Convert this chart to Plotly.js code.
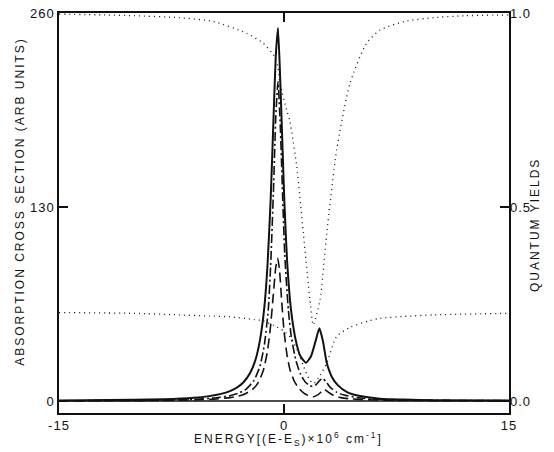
<!DOCTYPE html>
<html>
<head>
<meta charset="utf-8">
<script src="https://cdn.plot.ly/plotly-3.0.1.min.js"></script>
<style>
html,body{margin:0;padding:0;background:#fff;}
#chart{width:554px;height:452px;}
.annotation-text{letter-spacing:2px;}
.xtick text,.ytick text,.y2tick text{letter-spacing:1px;}
</style>
</head>
<body>
<div id="chart"></div>
<script>
// Absorption cross section (left axis, arb units)
var solidX = [-15,-10,-8,-6,-5,-4.2,-3.6,-3.16,-2.7,-2.27,-1.9,-1.6,-1.31,-1.1,-0.89,-0.7,-0.55,-0.4,-0.25,-0.1,0.02,0.2,0.47,0.8,1.1,1.47,1.8,2.1,2.36,2.6,2.84,3.2,3.6,4.2,5,6.4,8,10,15];
var solidY = [0.4,0.8,1.2,2.2,3.3,4.8,6.7,8.9,12.6,18.6,27.7,41,63,91,135,189,231,250,215,170,134.7,95,61,40,30,25.7,30,40,48.7,40,26,16,10.5,6,3.5,1.6,1,0.6,0.3];

var dashDotX = [-15,-10,-8,-6,-4.5,-3.6,-3,-2.5,-2,-1.6,-1.31,-1.05,-0.89,-0.7,-0.55,-0.4,-0.25,-0.1,0.05,0.29,0.5,0.8,1.1,1.4,1.7,1.9,2.15,2.4,2.58,2.8,3.1,3.5,4,5,6,8,10,15];
var dashDotY = [0.18,0.42,0.67,1.2,2.2,3.6,5.4,8.2,13.8,23.4,37.6,61,90.7,141.7,190,214,185,140,98,61,42,27,18,13,10.5,9.8,11,14,15.2,13,9,6,4,2.2,1.4,0.8,0.5,0.25];

var longDashX = [-15,-10,-8,-6,-4.5,-3.6,-3.1,-2.6,-2.1,-1.7,-1.38,-1.1,-0.9,-0.71,-0.55,-0.42,-0.3,-0.16,0,0.2,0.4,0.7,1.0,1.3,1.6,1.95,2.3,2.69,2.95,3.3,3.8,4.5,5.5,7,10,15];
var longDashY = [0.11,0.26,0.41,0.76,1.4,2.3,3.2,4.8,7.8,12.7,20.4,33.5,49.8,71.5,89.5,95.6,88,67.7,47,31,21,13,8.5,5.5,3.8,2.9,4.5,7.8,6,3.8,2.3,1.4,0.9,0.5,0.25,0.1];

// Quantum yields (right axis)
var upperX = [-15,-12,-10,-7,-4.7,-2.5,-1.38,-0.71,-0.4,-0.27,0.18,0.4,0.85,1.29,1.73,1.95,2.4,2.85,3.51,4.4,5.5,6.4,8,10,12,15];
var upperY = [0.997,0.995,0.993,0.988,0.978,0.948,0.922,0.892,0.86,0.819,0.75,0.72,0.604,0.432,0.26,0.196,0.26,0.432,0.647,0.819,0.922,0.956,0.978,0.988,0.993,0.995];

var lowerX = [-15,-10,-7,-5,-3.6,-2,-1.4,-0.7,0,0.5,0.9,1.3,1.7,2.0,2.3,2.85,3.5,4.4,5.7,6.4,8,10,15];
var lowerY = [0.228,0.226,0.222,0.219,0.217,0.21,0.207,0.195,0.18,0.16,0.13,0.09,0.055,0.045,0.06,0.097,0.166,0.19,0.207,0.213,0.218,0.222,0.226];

var xTicks = [-15,0,15];
var xTickText = ['-15','0','15'];
var yTicks = [0,130,260];
var yTickText = ['0','130','260'];
var y2Ticks = [0,0.5,1];
var y2TickText = ['0.0','0.5','1.0'];

var blk = '#111';
var traces = [
  {x: upperX, y: upperY, yaxis:'y2', mode:'lines', line:{color:blk, width:1.3, dash:'1px,4px', shape:'spline', smoothing:0.6}, hoverinfo:'skip'},
  {x: lowerX, y: lowerY, yaxis:'y2', mode:'lines', line:{color:blk, width:1.3, dash:'1px,4px', shape:'spline', smoothing:0.6}, hoverinfo:'skip'},
  {x: longDashX, y: longDashY, mode:'lines', line:{color:blk, width:1.6, dash:'10px,5px', shape:'spline', smoothing:0.5}, hoverinfo:'skip'},
  {x: dashDotX, y: dashDotY, mode:'lines', line:{color:blk, width:1.6, dash:'9px,3px,2px,3px', shape:'spline', smoothing:0.5}, hoverinfo:'skip'},
  {x: solidX, y: solidY, mode:'lines', line:{color:blk, width:2, shape:'spline', smoothing:0.5}, hoverinfo:'skip'}
];

var tickFont = {family:'Liberation Sans, Arial, sans-serif', size:13, color:blk};
var titleFont = {family:'Liberation Sans, Arial, sans-serif', size:12, color:blk};

var layout = {
  width:554, height:452,
  margin:{l:59, r:45, t:13, b:39, pad:0},
  paper_bgcolor:'#fff', plot_bgcolor:'#fff',
  showlegend:false,
  xaxis:{range:[-15,15], tickvals:xTicks, ticktext:xTickText, ticks:'inside', ticklen:9, tickwidth:1.3, tickcolor:blk,
         showline:true, linecolor:blk, linewidth:1.6, mirror:'ticks', showgrid:false, zeroline:false, tickfont:tickFont},
  yaxis:{range:[-8,260], tickvals:yTicks, ticktext:yTickText, ticks:'inside', ticklen:9, tickwidth:1.3, tickcolor:blk,
         showline:true, linecolor:blk, linewidth:1.6, mirror:true, showgrid:false, zeroline:false, tickfont:tickFont},
  yaxis2:{range:[-0.0309,1.0], overlaying:'y', side:'right', tickvals:y2Ticks, ticktext:y2TickText, ticks:'inside', ticklen:9,
          tickwidth:1.3, tickcolor:blk, showline:false, showgrid:false, zeroline:false, tickfont:tickFont},
  shapes:[{type:'line', xref:'paper', x0:0, x1:1, yref:'y', y0:0, y1:0, line:{color:blk, width:1.4}}],
  annotations:[
    {xref:'paper', yref:'paper', x:-0.087, y:0.53, text:'ABSORPTION CROSS SECTION (ARB UNITS)', textangle:-90, showarrow:false, font:titleFont, xanchor:'center', yanchor:'middle'},
    {xref:'paper', yref:'paper', x:1.058, y:0.47, text:'QUANTUM YIELDS', textangle:-90, showarrow:false, font:titleFont, xanchor:'center', yanchor:'middle'},
    {xref:'paper', yref:'paper', x:0.509, y:-0.066, text:'ENERGY[(E-E<sub>S</sub>)×10<sup>6</sup> cm<sup>-1</sup>]', showarrow:false, font:titleFont, xanchor:'center', yanchor:'middle'}
  ]
};

Plotly.newPlot('chart', traces, layout, {displayModeBar:false, staticPlot:true});
</script>
</body>
</html>
